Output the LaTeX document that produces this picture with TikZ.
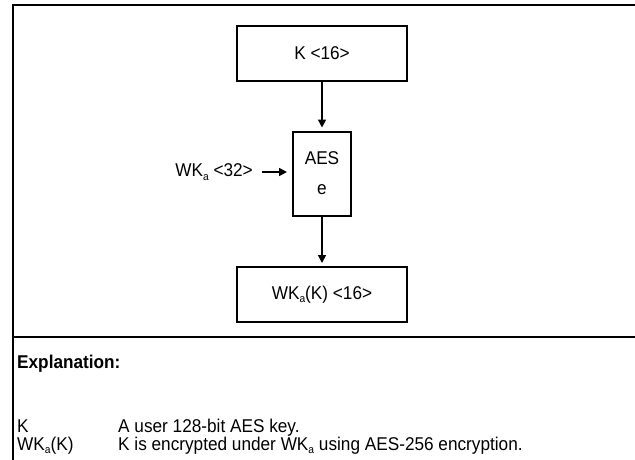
\documentclass[tikz,border=0pt]{standalone}
\usepackage{fontspec}
\setmainfont[FakeStretch=0.93]{Liberation Sans}
\usetikzlibrary{arrows.meta}

\newcommand{\subidx}[1]{\raisebox{-3.5pt}{\fontsize{11}{11}\selectfont #1}}

\begin{document}
\begin{tikzpicture}[x=1pt, y=-1pt,
    txt/.style={font=\fontsize{18.5}{21}\selectfont, inner sep=0pt},
    keybox/.style={txt, draw, line width=2pt, minimum width=170pt, minimum height=55pt},
    aesbox/.style={txt, draw, line width=2pt, minimum width=58pt, minimum height=84pt,
        align=center, font=\fontsize{18.5}{30}\selectfont},
    arr/.style={line width=1.6pt, -{Triangle[length=8pt,width=8pt]}},
    frame/.style={line width=2pt}]
    \useasboundingbox (0,0) rectangle (635,459);

    % Frame and divider
    \coordinate (TR) at (640,5);
    \coordinate (TL) at (13,5);
    \coordinate (BL) at (13,465);
    \coordinate (DL) at (13,337);
    \coordinate (DR) at (640,337);
    \draw[frame] (TR) -- (TL) -- (BL);
    \draw[frame] (DL) -- (DR);

    % Boxes
    \node[keybox] (K) at (322,53.5) {K <16>};
    \node[aesbox] (AES) at (322,173.5) {AES\\e};
    \node[keybox] (WKK) at (322,294.5) {WK\subidx{a}(K) <16>};

    % Wrapping key input
    \node[txt, anchor=east, inner xsep=9pt] (WKa) at (262,172) {WK\subidx{a} <32>};

    % Arrows
    \draw[arr, shorten >=3pt] (K) -- (AES);
    \draw[arr, shorten >=5pt] (WKa) -- (WKa -| AES.west);
    \draw[arr, shorten >=3pt] (AES) -- (WKK);

    % Explanation
    \node[txt, font=\fontsize{18.5}{21}\selectfont\bfseries, anchor=base west] (expl) at (17,368) {Explanation:};
    \node[txt, anchor=base west] (kname) at (17,432) {K};
    \node[txt, anchor=base west] (kdesc) at (118,432) {A user 128-bit AES key.};
    \node[txt, anchor=base west] (wname) at (17,450) {WK\subidx{a}(K)};
    \node[txt, anchor=base west] (wdesc) at (118,450) {K is encrypted under WK\subidx{a} using AES-256 encryption.};
\end{tikzpicture}
\end{document}
